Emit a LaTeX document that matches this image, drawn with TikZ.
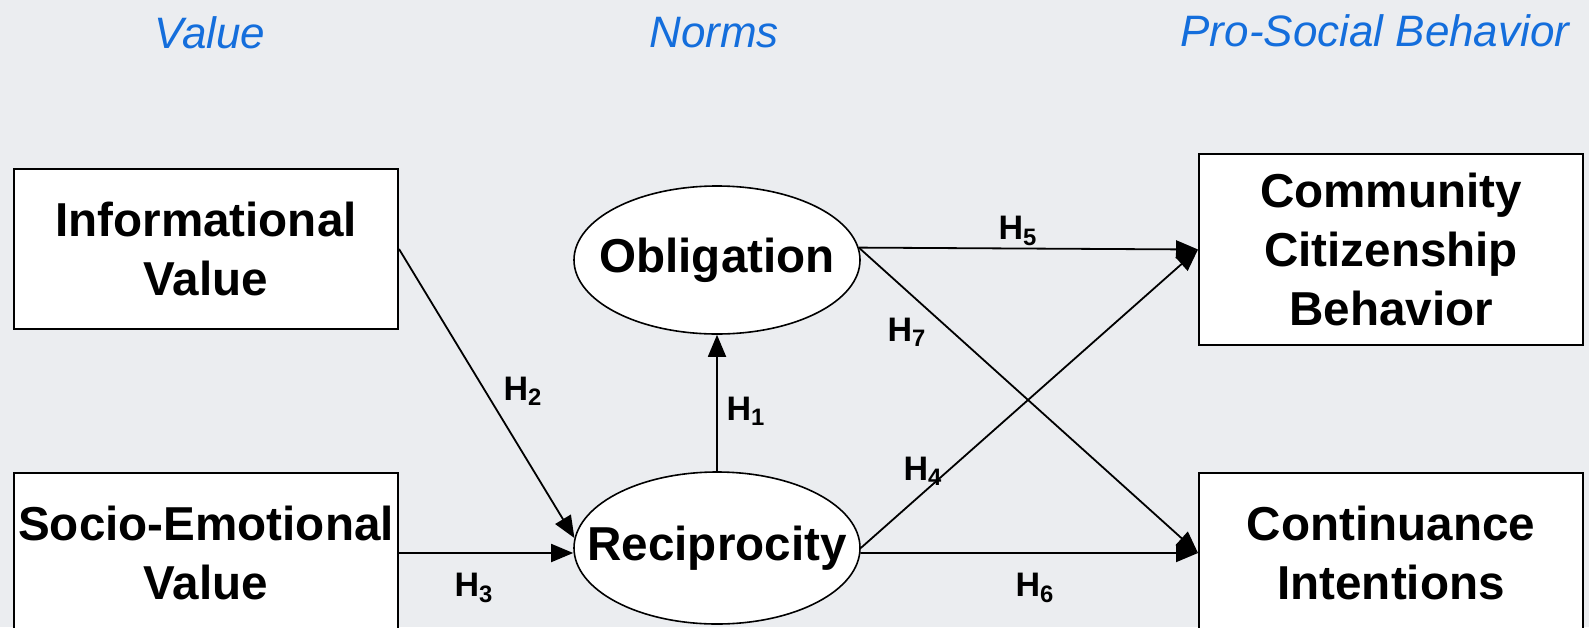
\documentclass[tikz,border=0pt]{standalone}
\usepackage{fontspec}
\setmainfont{Liberation Sans}
\usetikzlibrary{arrows.meta,shapes.geometric}
\definecolor{headblue}{RGB}{20,110,220}
\definecolor{slidebg}{RGB}{235,237,240}
\newcommand{\hyp}[1]{H\textsubscript{#1}}

\begin{document}
\begin{tikzpicture}[x=0.5pt,y=-0.5pt,
  construct/.style={draw,fill=white,align=center,inner sep=0pt,
    font=\bfseries\fontsize{23.8}{29.5}\selectfont},
  measured/.style={construct,rectangle,line width=1pt,minimum width=192pt,minimum height=80pt},
  latent/.style={construct,ellipse,line width=0.8pt,inner xsep=-16pt,minimum width=143pt,minimum height=74pt},
  path/.style={line width=0.9pt,-{Triangle[length=11pt,width=9pt]}},
  hyplabel/.style={font=\bfseries\fontsize{17}{17}\selectfont},
  head/.style={text=headblue,font=\itshape\fontsize{22}{22}\selectfont}]
\useasboundingbox (0,0) rectangle (1589,627);
\clip (0,0) rectangle (1589,627);
\fill[slidebg] (0,0) rectangle (1589,627); % slide background
% column heads
\node[head] (valuehd) at (210,33) {Value};
\node[head] (normshd) at (714,33) {Norms};
\node[head] (prosocialhd) at (1375,31) {Pro-Social Behavior};
% constructs
\node[measured] (info) at (206,249) {Informational\\Value};
\node[measured] (socio) at (206,553) {Socio-Emotional\\Value};
\node[measured,minimum height=95.5pt] (ccb) at (1391,249.5) {Community\\Citizenship\\Behavior};
\node[measured] (ci) at (1391,553) {Continuance\\Intentions};
\node[latent] (oblig) at (717,260) {Obligation};
\node[latent,minimum height=76pt] (recip) at (717,548) {Reciprocity};
% hypothesised paths
\draw[path] (recip.north) -- (oblig.south);
\draw[path] (info.east) -- (recip.176);
\draw[path] (socio.east) -- (socio.east -| recip.west);
\draw[path] (recip.east) -- (ccb.west);
\draw[path] (oblig.5) -- (ccb.west);
\draw[path] (recip.-2) -- (ci.west);
\draw[path] (oblig.5) -- (ci.west);
\node[hyplabel] (h1) at (746,411) {\hyp{1}};
\node[hyplabel] (h2) at (523,391) {\hyp{2}};
\node[hyplabel] (h3) at (474,588) {\hyp{3}};
\node[hyplabel] (h4) at (923,471) {\hyp{4}};
\node[hyplabel] (h5) at (1018,231) {\hyp{5}};
\node[hyplabel] (h6) at (1035,588) {\hyp{6}};
\node[hyplabel] (h7) at (907,332) {\hyp{7}};
\end{tikzpicture}
\end{document}
